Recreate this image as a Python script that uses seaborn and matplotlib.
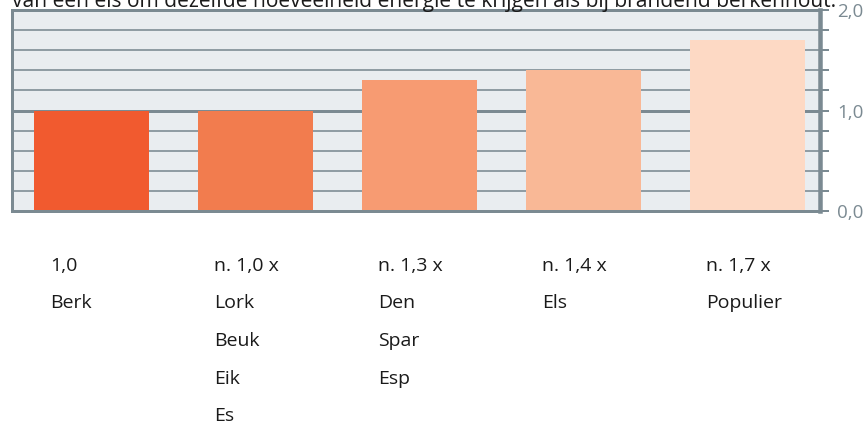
import matplotlib
matplotlib.use("Agg")
import matplotlib.pyplot as plt
import matplotlib.transforms as mtransforms
import seaborn as sns
import pandas as pd

# ---- data ----
categories = ["Berk", "Lork", "Den", "Els", "Populier"]
values = [1.0, 1.0, 1.3, 1.4, 1.7]
factor_labels = ["1,0", "n. 1,0 x", "n. 1,3 x", "n. 1,4 x", "n. 1,7 x"]
species_groups = [
    ["Berk"],
    ["Lork", "Beuk", "Eik", "Es"],
    ["Den", "Spar", "Esp"],
    ["Els"],
    ["Populier"],
]
bar_colors = ["#F15A2F", "#F27C4E", "#F79B72", "#F9B896", "#FDD9C4"]
ytick_vals = [0.0, 1.0, 2.0]
ytick_labels = ["0,0", "1,0", "2,0"]
title_text = "van een els om dezelfde hoeveelheid energie te krijgen als bij brandend berkenhout."

sns.set_theme(style="white")
plt.rcParams['font.family'] = ['Open Sans', 'DejaVu Sans']

W, H = 868, 428
PT = 72 / 100  # points per pixel
fig = plt.figure(figsize=(W / 100, H / 100), dpi=100)
fig.patch.set_facecolor("white")
ax_left, ax_right, ax_top, ax_bot = 12, 820, 10, 211
ax = fig.add_axes([ax_left / W, 1 - ax_bot / H, (ax_right - ax_left) / W, (ax_bot - ax_top) / H])
ax.set_facecolor("#E9EDF0")

gray = "#7B8A92"
# gridlines
for k in range(1, 10):
    y = k * 0.2
    ax.axhline(y, color=gray, lw=(3 if k == 5 else 1.6) * PT, zorder=0.5)

df = pd.DataFrame({"cat": categories, "val": values})
sns.barplot(data=df, x="cat", y="val", hue="cat", palette=bar_colors, legend=False,
            width=0.70, saturation=1, ax=ax, zorder=2, edgecolor="none", linewidth=0)

ax.set_xlim(-0.485, 4.442)
ax.set_ylim(0, 2.0)
ax.set_xlabel("")
ax.set_ylabel("")
ax.set_xticks([])

# right-side y ticks
ax.yaxis.tick_right()
ticks = [round(k * 0.2, 1) for k in range(11)]
ax.set_yticks(ticks)
ax.set_yticklabels([ytick_labels[ytick_vals.index(t)] if t in ytick_vals else "" for t in ticks])
ax.tick_params(axis="y", which="both", right=True, left=False, length=9 * PT, width=2 * PT,
               color=gray, labelcolor=gray, labelsize=13.5, pad=8 * PT)

for side, sp in ax.spines.items():
    sp.set_visible(True)
    sp.set_color(gray)
    sp.set_linewidth(3 * PT)
ax.spines["right"].set_linewidth(4.5 * PT)

# labels beneath bars
trans = mtransforms.blended_transform_factory(ax.transData, fig.transFigure)
line_h = 37.5
for i, (fl, grp) in enumerate(zip(factor_labels, species_groups)):
    x = i - 0.35 + 16 / 164
    lines = [fl] + grp
    for j, t in enumerate(lines):
        ybase = 271 + j * line_h
        ax.text(x, 1 - ybase / H, t, transform=trans, fontsize=14, color="#1A1A1A",
                ha="left", va="baseline")

# clipped title at top (cut off by the top edge, as in the reference)
fig.text(12 / W, 1 - 7 / H, title_text, fontsize=15.1, color="#1A1A1A", ha="left", va="baseline")

fig.savefig("out.png", dpi=100, facecolor="white")
